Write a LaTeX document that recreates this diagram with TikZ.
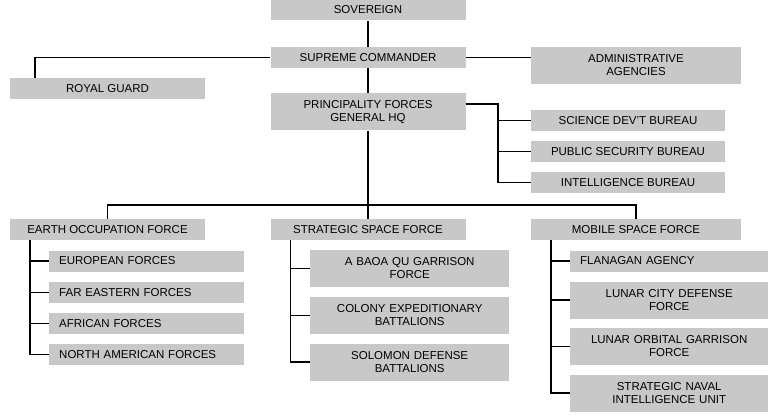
\documentclass[tikz,border=0pt]{standalone}
\usepackage{fontspec}
\setmainfont{Liberation Sans}
\begin{document}
\begin{tikzpicture}[x=1pt, y=-1pt,
            box/.style={rectangle, fill={rgb,255: red,200; green,200; blue,200},
            font=\fontsize{11.5}{13}\selectfont, inner sep=0pt, align=center,
            minimum height=21pt},
            wide/.style={box, minimum width=195pt},
            tall/.style={box, minimum height=37pt},
            sub/.style={box, anchor=west, minimum width=198pt, text width=178pt, align=left},
            link/.style={draw, line width=1.5pt}
        ]
            \useasboundingbox (0,0) rectangle (780,420);
            \node (sov) [wide] at (368, 10) {SOVEREIGN};
            \node (sup) [wide] at (368, 57.5) {SUPREME COMMANDER};
            \node (adm) [box, tall, minimum width=210pt] at (636, 65.5) {ADMINISTRATIVE\\AGENCIES};
            \node (royal) [wide] at (107.5, 89) {ROYAL GUARD};
            \node (hq) [box, tall, minimum width=195pt] at (368, 112) {PRINCIPALITY FORCES\\GENERAL HQ};
            \node (sci) [box, minimum width=194pt] at (628, 120.5) {SCIENCE DEV'T BUREAU};
            \node (pub) [box, minimum width=194pt] at (628, 151.5) {PUBLIC SECURITY BUREAU};
            \node (intel) [box, minimum width=194pt] at (628, 182.5) {INTELLIGENCE BUREAU};

            \node (eof) [wide] at (107.5, 229.5) {EARTH OCCUPATION FORCE};
            \node (ssf) [wide] at (368, 229.5) {STRATEGIC SPACE FORCE};
            \node (msf) [box, minimum width=210pt] at (636, 229.5) {MOBILE SPACE FORCE};

            \node (euro) [sub, minimum width=195pt, text width=175pt] at (49, 261) {EUROPEAN FORCES};
            \node (fareast) [sub, minimum width=195pt, text width=175pt] at (49, 292.5) {FAR EASTERN FORCES};
            \node (africa) [sub, minimum width=195pt, text width=175pt] at (49, 323.5) {AFRICAN FORCES};
            \node (namerica) [sub, minimum width=195pt, text width=175pt] at (49, 354.5) {NORTH AMERICAN FORCES};

            \node (baoa) [sub, tall, minimum width=199pt] at (310, 268.5) {A BAOA QU GARRISON\\FORCE};
            \node (colony) [sub, tall, minimum width=199pt] at (310, 315.5) {COLONY EXPEDITIONARY\\BATTALIONS};
            \node (solomon) [sub, tall, minimum width=199pt] at (310, 362) {SOLOMON DEFENSE\\BATTALIONS};

            \node (flanagan) [sub] at (570, 261) {FLANAGAN AGENCY};
            \node (lunarcity) [sub, tall] at (570, 300) {LUNAR CITY DEFENSE\\FORCE};
            \node (lunarorb) [sub, tall] at (570, 346.5) {LUNAR ORBITAL GARRISON\\FORCE};
            \node (naval) [sub, tall] at (570, 393) {STRATEGIC NAVAL\\INTELLIGENCE UNIT};

            \coordinate (bus) at (368, 205);

            \draw [link] (sov) -- (sup);
            \draw [link] (sup) -- (hq);
            \draw [link] (sup) -- (adm.west |- sup);
            \draw [link] (sup.west) -| ([xshift=25pt]royal.north west);
            \draw [link] (hq) -- (ssf);
            \draw [link] (eof.north) |- (bus) -| (msf.north);
            \foreach \n in {sci, pub, intel}
                \draw [link] ([yshift=8pt]hq.east) -| ([xshift=-33pt]sci.west) |- (\n.west);
            \foreach \n in {euro, fareast, africa, namerica}
                \draw [link] ([xshift=20pt]eof.south west) |- (\n.west);
            \foreach \n in {baoa, colony, solomon}
                \draw [link] ([xshift=20pt]ssf.south west) |- (\n.west);
            \foreach \n in {flanagan, lunarcity, lunarorb, naval}
                \draw [link] ([xshift=20pt]msf.south west) |- (\n.west);
        \end{tikzpicture}
\end{document}
